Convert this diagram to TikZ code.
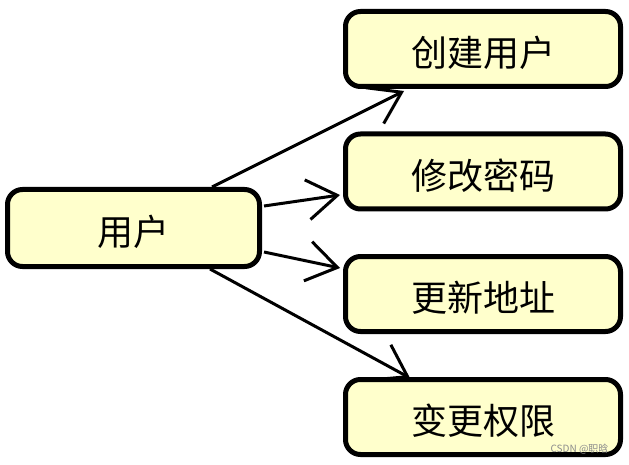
\documentclass[tikz,border=0pt]{standalone}
\usepackage{fontspec}
\newfontfamily\cjk{Noto Sans CJK SC}
\usetikzlibrary{arrows.meta,shadows}
\pgfdeclarelayer{bg}
\pgfsetlayers{bg,main}
\definecolor{boxfill}{HTML}{FFFFCC}
\newcommand{\lowtext}[1]{\raisebox{-4pt}[\height][\depth]{#1}}
\tikzset{
  box/.style={draw=black, line width=5pt, fill=boxfill, rounded corners=15pt,
    inner sep=0pt, font=\cjk\fontsize{36}{40}\selectfont,
    drop shadow={shadow xshift=1.5pt, shadow yshift=-1.5pt, fill=black!60, opacity=1}},
  leftbox/.style={box, minimum width=252pt, minimum height=77pt},
  rightbox/.style={box, minimum width=275pt, minimum height=75pt},
  conn/.style={line width=3pt, line join=round,
    -{Straight Barb[length=30pt,width=40pt,line width=3pt]}},
  wmark/.style={font=\cjk\fontsize{10}{12}\selectfont, text=black!45}
}
\begin{document}
\begin{tikzpicture}[x=1pt,y=-1pt]
\useasboundingbox (0,0) rectangle (629,465);
\node[leftbox] (user) at (133.5,228) {\lowtext{用户}};
\node[rightbox] (c1) at (483,49) {\lowtext{创建用户}};
\node[rightbox] (c2) at (483,171.5) {\lowtext{修改密码}};
\node[rightbox] (c3) at (483,294) {\lowtext{更新地址}};
\node[rightbox] (c4) at (483,417) {\lowtext{变更权限}};
\begin{pgfonlayer}{bg}
\draw[conn] ([xshift=78.5pt]user.north) -- ([xshift=-79pt,yshift=-2pt]c1.south);
\draw[conn] ([yshift=22pt,xshift=2pt]user.east) -- ([yshift=-23.5pt,xshift=-3pt]c2.west);
\draw[conn] ([yshift=-24pt,xshift=2pt]user.east) -- ([yshift=26pt,xshift=-3pt]c3.west);
\draw[conn] ([xshift=76.5pt]user.south) -- ([xshift=-73pt,yshift=-1pt]c4.north);
\end{pgfonlayer}
\node[wmark, anchor=east] (wm) at (612,449) {CSDN @职晗};
\end{tikzpicture}
\end{document}
